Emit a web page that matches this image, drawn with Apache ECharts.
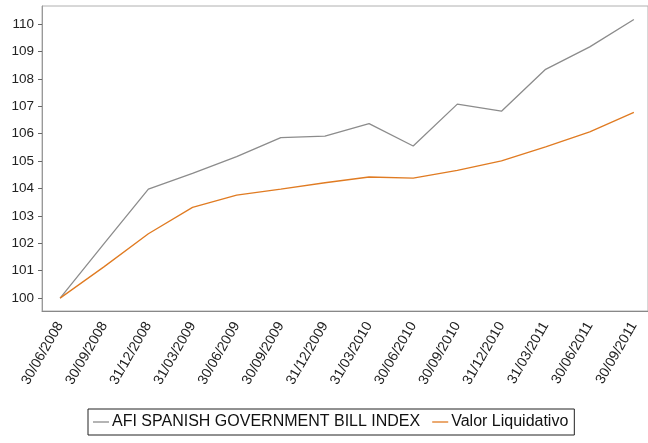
<!DOCTYPE html>
<html>
<head>
<meta charset="utf-8">
<title>AFI vs Valor Liquidativo</title>
<script src="https://cdn.jsdelivr.net/npm/echarts@6/dist/echarts.min.js"></script>
<style>
body{margin:0;background:#fff;}
#main{width:648px;height:443px;}
</style>
</head>
<body>
<div id="main"></div>
<script>
// fechas del eje x
var fechas = ['30/06/2008','30/09/2008','31/12/2008','31/03/2009','30/06/2009','30/09/2009','31/12/2009',
	'31/03/2010','30/06/2010','30/09/2010','31/12/2010','31/03/2011','30/06/2011','30/09/2011'];
var indiceAfi = [100, 102.0, 103.98, 104.55, 105.16, 105.86, 105.91, 106.37, 105.55, 107.08, 106.82, 108.35, 109.17, 110.17];
var valorLiq = [100, 101.15, 102.35, 103.31, 103.76, 103.98, 104.21, 104.42, 104.38, 104.66, 105.01, 105.52, 106.07, 106.78];
var yTicks = [100, 101, 102, 103, 104, 105, 106, 107, 108, 109, 110];

var posiciones = fechas.map(function(f, i){ return i; });

function pares(arr){
	return arr.map(function(v, i){ return [i, v]; });
}

var myChart = echarts.init(document.getElementById('main'));
var font = 'Liberation Sans, Arial, sans-serif';

option = {
	animation: false,
	backgroundColor: '#fff',
	grid: {left: 42, top: 6, right: 0, bottom: 132, show: true, borderColor: '#b0b0b0', borderWidth: 1},
	legend: {
		top: 409, left: 88,
		data: ['AFI SPANISH GOVERNMENT BILL INDEX', 'Valor Liquidativo'],
		icon: 'rect', itemWidth: 16, itemHeight: 1.3, itemGap: 12,
		borderColor: '#222', borderWidth: 1, padding: [5, 6, 5, 5],
		textStyle: {fontFamily: font, fontSize: 16, color: '#111', padding: [0, 0, 0, -2]}
	},
	xAxis: {
		type: 'value', min: -0.41, max: 13.32,
		splitLine: {show: false},
		axisLine: {show: true, onZero: false, lineStyle: {color: '#888'}},
		axisTick: {show: false},
		axisLabel: {
			customValues: posiciones, rotate: 60, margin: 12,
			fontFamily: font, fontSize: 14, color: '#222',
			formatter: function(v){ return fechas[Math.round(v)]; }
		}
	},
	yAxis: {
		type: 'value', min: 99.53, max: 110.66,
		splitLine: {show: false},
		axisLine: {show: true, onZero: false, lineStyle: {color: '#999'}},
		axisTick: {show: true, length: 4, customValues: yTicks, lineStyle: {color: '#666'}},
		axisLabel: {customValues: yTicks, margin: 8, fontFamily: font, fontSize: 13.5, color: '#222'}
	},
	series: [{
		name: 'AFI SPANISH GOVERNMENT BILL INDEX', type: 'line', symbol: 'none',
		data: pares(indiceAfi),
		lineStyle: {color: '#8c8c8c', width: 1.3}, itemStyle: {color: '#8c8c8c'}
	}, {
		name: 'Valor Liquidativo', type: 'line', symbol: 'none',
		data: pares(valorLiq),
		lineStyle: {color: '#e07b22', width: 1.3}, itemStyle: {color: '#e07b22'}
	}]
};
myChart.setOption(option);
</script>
</body>
</html>
